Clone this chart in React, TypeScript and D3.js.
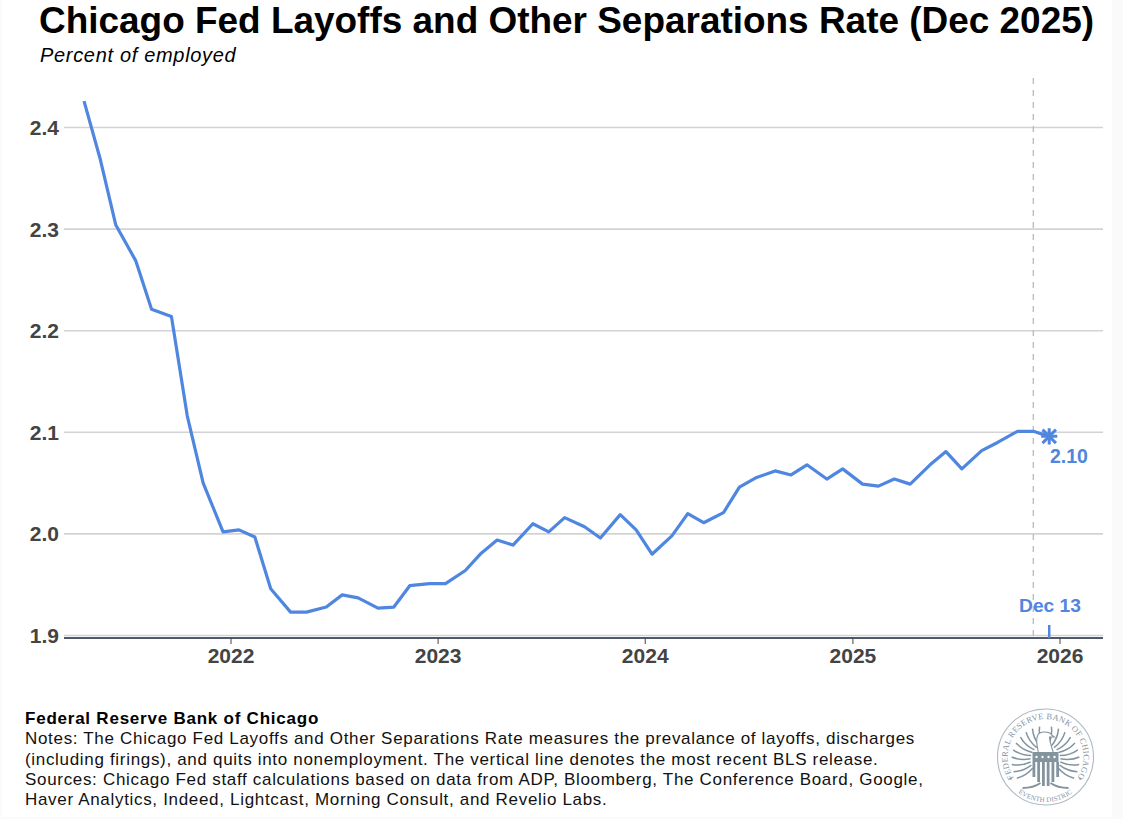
import React from 'react'
import * as d3 from 'd3'

// Reference-week Saturdays, one per month
const dates = [
  '2021-04-17', '2021-05-15', '2021-06-12', '2021-07-17', '2021-08-14', '2021-09-18', '2021-10-16', '2021-11-13', '2021-12-18',
  '2022-01-15', '2022-02-12', '2022-03-12', '2022-04-16', '2022-05-14', '2022-06-18', '2022-07-16', '2022-08-13', '2022-09-17', '2022-10-15', '2022-11-12', '2022-12-17',
  '2023-01-14', '2023-02-18', '2023-03-18', '2023-04-15', '2023-05-13', '2023-06-17', '2023-07-15', '2023-08-12', '2023-09-16', '2023-10-14', '2023-11-18', '2023-12-16',
  '2024-01-13', '2024-02-17', '2024-03-16', '2024-04-13', '2024-05-18', '2024-06-15', '2024-07-13', '2024-08-17', '2024-09-14', '2024-10-12', '2024-11-16', '2024-12-14',
  '2025-01-18', '2025-02-15', '2025-03-15', '2025-04-12', '2025-05-17', '2025-06-14', '2025-07-12', '2025-08-16', '2025-09-13', '2025-10-18', '2025-11-15', '2025-12-13',
]
const rates = [
  2.426, 2.37, 2.304, 2.269, 2.221, 2.214, 2.116, 2.05, 2.002,
  2.004, 1.997, 1.946, 1.923, 1.923, 1.928, 1.94, 1.937, 1.927, 1.928, 1.949, 1.951,
  1.951, 1.964, 1.981, 1.994, 1.989, 2.01, 2.002, 2.016, 2.007, 1.996, 2.019, 2.004,
  1.98, 1.998, 2.02, 2.011, 2.021, 2.046, 2.055, 2.062, 2.058, 2.068, 2.054, 2.064,
  2.049, 2.047, 2.054, 2.049, 2.068, 2.081, 2.064, 2.082, 2.09, 2.101, 2.101, 2.096,
]
const yTicks = [1.9, 2.0, 2.1, 2.2, 2.3, 2.4]
const xTicks = ['2022-01-01', '2023-01-01', '2024-01-01', '2025-01-01', '2026-01-01']
const blsRelease = '2025-11-15'
const lastLabel = '2.10'
const lastDate = 'Dec 13'

const title = 'Chicago Fed Layoffs and Other Separations Rate (Dec 2025)'
const subtitle = 'Percent of employed'
const footHead = 'Federal Reserve Bank of Chicago'
const footLines = [
  'Notes: The Chicago Fed Layoffs and Other Separations Rate measures the prevalance of layoffs, discharges',
  '(including firings), and quits into nonemployment. The vertical line denotes the most recent BLS release.',
  'Sources: Chicago Fed staff calculations based on data from ADP, Bloomberg, The Conference Board, Google,',
  'Haver Analytics, Indeed, Lightcast, Morning Consult, and Revelio Labs.',
]

const font = '"Liberation Sans", Arial, sans-serif'
const serif = '"Liberation Serif", serif'
const blue = '#4f86e0'
const grey = '#444444'
const sealColor = '#84949f'

const parse = d3.utcParse('%Y-%m-%d')
const day = (s: string) => parse(s) as Date

const x = d3.scaleUtc()
  .domain([day('2022-01-01'), day('2026-01-01')])
  .range([231, 1060])
const y = d3.scaleLinear().domain([1.9, 2.4]).range([635.5, 127.5])

const plotLeft = 64
const plotRight = 1103
const axisY = 638

const line = d3.line<number>()
  .x((_, i) => x(day(dates[i])))
  .y(d => y(d))

// point on a circle, angle in degrees clockwise from the top
const polar = (cx: number, cy: number, r: number, deg: number) => {
  const a = deg * Math.PI / 180
  return [cx + r * Math.sin(a), cy - r * Math.cos(a)]
}

// Rough drawing of the bank seal, kept as text and simple shapes
const Seal: React.FC<{ cx: number; cy: number }> = ({ cx, cy }) => {
  const [tx0, ty0] = polar(cx, cy, 38, -128)
  const [tx1, ty1] = polar(cx, cy, 38, 128)
  const [bx0, by0] = polar(cx, cy, 45, -142)
  const [bx1, by1] = polar(cx, cy, 45, 142)
  const [dlx, dly] = polar(cx, cy, 41, -122)
  const [drx, dry] = polar(cx, cy, 41, 122)
  const feathers = [-1, 1].flatMap(side =>
    d3.range(10).map(i => {
      const deg = side * (10 + i * 12.5)
      const [x0, y0] = polar(cx, cy + 3, 15, deg)
      const [x1, y1] = polar(cx, cy + 3, 34, deg)
      const [qx, qy] = polar(cx, cy + 3, 25, deg + side * 7)
      return (
        <path
          key={`${side}-${i}`}
          d={`M ${x0} ${y0} Q ${qx} ${qy} ${x1} ${y1}`}
          fill="none"
          stroke={sealColor}
          strokeWidth={1.5}
        />
      )
    })
  )
  return (
    <g>
      <circle cx={cx} cy={cy} r={48} fill="#fff" stroke="#aeb9c1" strokeWidth={1.1} />
      <defs>
        <path id="sealTop" d={`M ${tx0} ${ty0} A 38 38 0 1 1 ${tx1} ${ty1}`} />
        <path id="sealBottom" d={`M ${bx0} ${by0} A 45 45 0 0 0 ${bx1} ${by1}`} />
      </defs>
      <text fontFamily={serif} fontSize={8.4} fill={sealColor} letterSpacing={0.25}>
        <textPath href="#sealTop" startOffset="50%" textAnchor="middle">FEDERAL RESERVE BANK OF CHICAGO</textPath>
      </text>
      <text fontFamily={serif} fontSize={7} fill={sealColor} letterSpacing={0.1}>
        <textPath href="#sealBottom" startOffset="50%" textAnchor="middle">SEVENTH DISTRICT</textPath>
      </text>
      <circle cx={dlx} cy={dly} r={1.1} fill={sealColor} />
      <circle cx={drx} cy={dry} r={1.1} fill={sealColor} />
      {feathers}
      <path
        d={`M ${cx - 7} ${cy - 4} q -3 -13 -1 -17 q 1 -4 7 -4 q 6 0 7 3 l 3 2 l -5 0 q 0 4 4 16 z`}
        fill="#fff"
        stroke={sealColor}
        strokeWidth={1.1}
      />
      <rect x={cx - 13} y={cy - 5} width={26} height={10} fill={sealColor} />
      {d3.range(6).map(i => (
        <rect
          key={i}
          x={cx - 13 + i * 4.75}
          y={cy + 5}
          width={2.8}
          height={i === 0 || i === 5 ? 15 : i === 1 || i === 4 ? 20 : 24}
          fill={sealColor}
        />
      ))}
      {d3.range(4).map(i => (
        <circle key={i} cx={cx - 9 + i * 6} cy={cy} r={1.2} fill="#fff" />
      ))}
      <path
        d={`M ${cx - 23} ${cy + 31} q 11 0 18 -5 M ${cx + 23} ${cy + 31} q -11 0 -18 -5`}
        fill="none"
        stroke={sealColor}
        strokeWidth={2}
      />
    </g>
  )
}

const App: React.FC = () => {
  const lastX = x(day(dates[dates.length - 1]))
  const lastY = y(rates[rates.length - 1])
  const bls = x(day(blsRelease))
  const starPlus = d3.symbol(d3.symbolPlus, 86)()
  const starTimes = d3.symbol(d3.symbolTimes, 120)()

  return (
    <svg
      width={1123}
      height={819}
      viewBox="0 0 1123 819"
      style={{ position: 'fixed', left: 0, top: 0, display: 'block' }}
    >
      <rect width={1123} height={819} fill="#fafafa" />
      <rect x={2} width={1110} height={817} fill="#ffffff" />

      <text x={39} y={33} fontFamily={font} fontSize={36.95} fontWeight={700} fill="#000">{title}</text>
      <text x={40} y={62} fontFamily={font} fontSize={20} fontStyle="italic" letterSpacing={0.68} fill="#000">{subtitle}</text>

      {yTicks.map(t => (
        <g key={t}>
          <line x1={plotLeft} x2={plotRight} y1={y(t)} y2={y(t)} stroke="#d3d3d3" strokeWidth={1.6} />
          <text x={59} y={y(t) + 7.5} textAnchor="end" fontFamily={font} fontSize={21} fontWeight={700} fill={grey}>
            {t.toFixed(1)}
          </text>
        </g>
      ))}

      <line x1={bls} x2={bls} y1={78} y2={axisY} stroke="#bdbdbd" strokeWidth={1.4} strokeDasharray="6 6" />

      <line x1={plotLeft} x2={plotRight} y1={axisY} y2={axisY} stroke="#14233c" strokeWidth={1.6} />
      {xTicks.map(t => (
        <g key={t}>
          <line x1={x(day(t))} x2={x(day(t))} y1={axisY} y2={axisY + 6} stroke={grey} strokeWidth={1} />
          <text x={x(day(t))} y={axisY + 25} textAnchor="middle" fontFamily={font} fontSize={21} fontWeight={700} fill={grey}>
            {t.slice(0, 4)}
          </text>
        </g>
      ))}

      <path d={line(rates) ?? ''} fill="none" stroke={blue} strokeWidth={3.2} strokeLinejoin="round" />
      <g transform={`translate(${lastX},${lastY})`} fill="none" stroke={blue} strokeWidth={3}>
        <path d={starPlus ?? ''} />
        <path d={starTimes ?? ''} />
      </g>

      <text x={1069} y={463} textAnchor="middle" fontFamily={font} fontSize={19.5} fontWeight={700} fill={blue}>{lastLabel}</text>
      <text x={1050} y={611.5} textAnchor="middle" fontFamily={font} fontSize={19.2} fontWeight={700} fill={blue}>{lastDate}</text>
      <line x1={lastX} x2={lastX} y1={625} y2={axisY} stroke={blue} strokeWidth={2.5} />

      <text x={25} y={723.5} fontFamily={font} fontSize={17} fontWeight={700} letterSpacing={0.77} fill="#000">{footHead}</text>
      {footLines.map((l, i) => (
        <text key={i} x={25} y={744.2 + i * 20.3} fontFamily={font} fontSize={17} letterSpacing={0.68} fill="#111">{l}</text>
      ))}

      <Seal cx={1045.5} cy={757} />
    </svg>
  )
}

export default App
